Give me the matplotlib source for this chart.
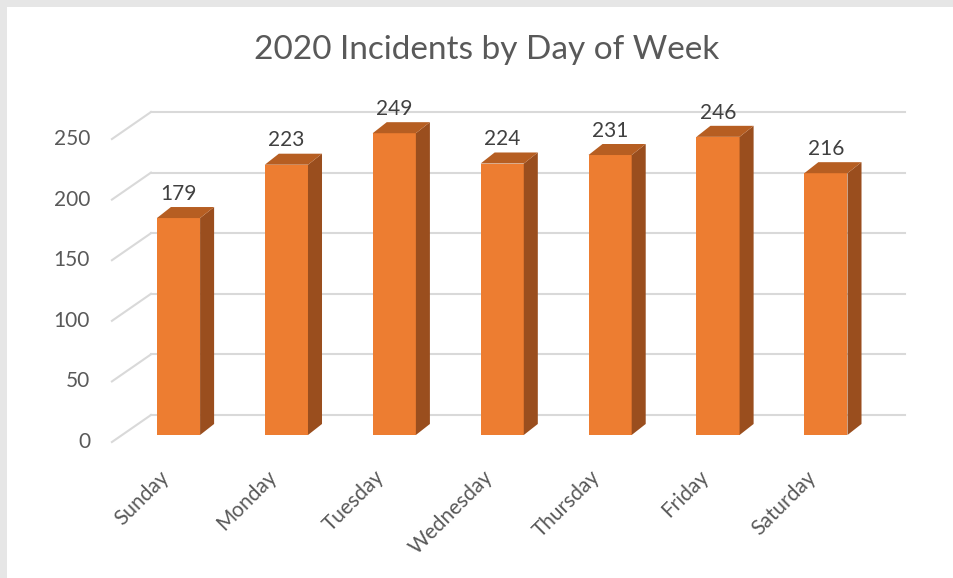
import matplotlib.pyplot as plt
from matplotlib.patches import Polygon, Rectangle

plt.rcParams["font.family"] = ["Lato", "DejaVu Sans"]

days = ["Sunday", "Monday", "Tuesday", "Wednesday", "Thursday", "Friday", "Saturday"]
incidents = [179, 223, 249, 224, 231, 246, 216]
y_ticks = [0, 50, 100, 150, 200, 250]

FRONT = "#ED7D31"
TOP = "#B65E22"
SIDE = "#9A4E1E"
GRID = "#D9D9D9"

# fake 3d geometry in data units (x = category index, y = value)
bar_w = 0.40
depth_x, depth_y = 0.13, 9.1         # bar depth
back_x, back_y = -0.255, 16.5        # back wall start / lift
wall_end = 6.733
floor_x, floor_y = -0.617, -5.8      # front end of floor diagonals

fig = plt.figure(figsize=(9.54, 5.78), dpi=100)
ax = fig.add_axes([0, 0, 1, 1])
ax.set_xlim(-178.5 / 107.9, (954 - 178.5) / 107.9)
ax.set_ylim((435 - 578) / 1.212, 435 / 1.212)
ax.axis("off")

# grey frame strips at top and left
fig.patches.append(Rectangle((0, 1 - 7 / 578), 1, 7 / 578, transform=fig.transFigure,
                             facecolor="#E6E6E6", edgecolor="none", zorder=0))
fig.patches.append(Rectangle((0, 0), 7 / 954, 1, transform=fig.transFigure,
                             facecolor="#E6E6E6", edgecolor="none", zorder=0))

for g in y_ticks:
    ax.plot([back_x, wall_end], [g + back_y, g + back_y], color=GRID, lw=1.5, zorder=1)
    ax.plot([floor_x, back_x], [g + floor_y, g + back_y], color=GRID, lw=1.5, zorder=1)
    ax.text(-0.82, g + floor_y, str(g), ha="right", va="center", fontsize=15, color="#595959")

xs = range(len(days))
ax.bar(xs, incidents, width=bar_w, color=FRONT, zorder=3)
for i, v in zip(xs, incidents):
    l, r = i - bar_w / 2, i + bar_w / 2
    ax.add_patch(Polygon([(r, 0), (r + depth_x, depth_y), (r + depth_x, v + depth_y), (r, v)],
                         closed=True, facecolor=SIDE, edgecolor="none", zorder=3))
    ax.add_patch(Polygon([(l, v), (l + depth_x, v + depth_y), (r + depth_x, v + depth_y), (r, v)],
                         closed=True, facecolor=TOP, edgecolor="none", zorder=3))
    ax.text(i, v + depth_y + 6, str(v), ha="center", va="baseline", fontsize=15, color="#404040")
    ax.text(i - 0.12, -32.2, days[i], ha="right", va="center", rotation=45,
            rotation_mode="anchor", fontsize=15, color="#595959")

fig.text(487 / 954, 1 - 50 / 578, "2020 Incidents by Day of Week", ha="center", va="center",
         fontsize=24, color="#595959")

fig.savefig("out.png", dpi=100)
